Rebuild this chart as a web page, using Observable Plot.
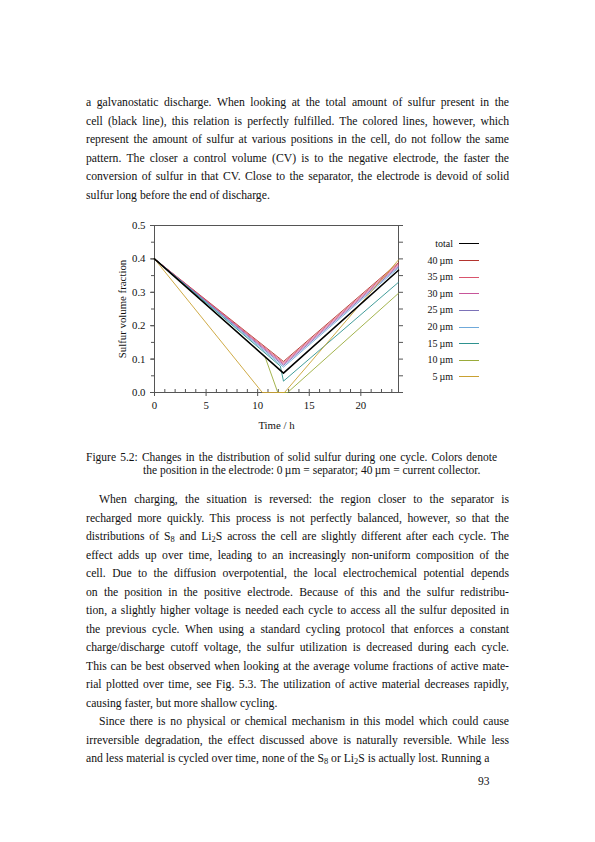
<!DOCTYPE html>
<html><head><meta charset="utf-8">
<script src="https://cdn.jsdelivr.net/npm/d3@7"></script>
<script src="https://cdn.jsdelivr.net/npm/@observablehq/plot@0.6"></script>
<style>
body{margin:0;background:#fff;}
#page{position:relative;width:595px;height:842px;font-family:"Liberation Serif",serif;color:#111;overflow:hidden;}
.ln{position:absolute;left:86px;width:423px;font-size:11.7px;line-height:14px;white-space:nowrap;text-align:justify;text-align-last:justify;}
.ln.last{text-align-last:left;}
.ln.ind{left:99px;width:410px;}
.cap{position:absolute;font-size:11.5px;line-height:13px;white-space:nowrap;text-align:justify;text-align-last:justify;}
sub{font-size:0.72em;vertical-align:-0.25em;line-height:0;}
#chart{position:absolute;left:0;top:205px;}
.lg{position:absolute;font-size:10px;line-height:12px;white-space:nowrap;}
.lgt{position:absolute;right:142px;text-align:right;}
.sw{position:absolute;left:459px;width:20px;height:0;}
#pno{position:absolute;left:478px;top:775px;font-size:11.5px;}
</style></head>
<body><div id="page"></div>
<script>
// ---------- data ----------
const seriesNames = ["total","40\u2009µm","35\u2009µm","30\u2009µm","25\u2009µm","20\u2009µm","15\u2009µm","10\u2009µm","5\u2009µm"];
const seriesColors = ["#000000","#b3342e","#d9546c","#c7559a","#7c72b8","#6fa9da","#2e928f","#9aab3a","#c9a132"];
// [time / h, sulfur volume fraction]
const total = [[0,0.4],[12.5,0.058],[23.65,0.366]];
const s40 = [[0,0.4],[12.5,0.093],[23.65,0.389]];
const s35 = [[0,0.4],[12.5,0.089],[23.65,0.385]];
const s30 = [[0,0.4],[12.5,0.085],[23.65,0.381]];
const s25 = [[0,0.4],[12.5,0.081],[23.65,0.377]];
const s20 = [[0,0.4],[12.5,0.076],[23.65,0.373]];
const s15 = [[0,0.4],[12.2,0.079],[12.5,0.034],[23.65,0.330]];
const s10 = [[0,0.4],[10.7,0.108],[11.95,0],[12.9,0],[23.65,0.297]];
const s5 = [[0,0.4],[10.45,0],[12.6,0],[23.65,0.397]];
const xMajorTicks = [0,5,10,15,20];
const xAllTicks = [0,1,2,3,4,5,6,7,8,9,10,11,12,13,14,15,16,17,18,19,20,21,22,23];
const yMajorTicks = [0,0.1,0.2,0.3,0.4,0.5];
const yAllTicks = [0,0.05,0.1,0.15,0.2,0.25,0.3,0.35,0.4,0.45,0.5];

const para1 = [
 "a galvanostatic discharge. When looking at the total amount of sulfur present in the",
 "cell (black line), this relation is perfectly fulfilled. The colored lines, however, which",
 "represent the amount of sulfur at various positions in the cell, do not follow the same",
 "pattern. The closer a control volume (CV) is to the negative electrode, the faster the",
 "conversion of sulfur in that CV. Close to the separator, the electrode is devoid of solid",
 "sulfur long before the end of discharge."
];
const captionLines = [
 "Figure 5.2: Changes in the distribution of solid sulfur during one cycle. Colors denote",
 "the position in the electrode: 0\u2009µm = separator; 40\u2009µm = current collector."
];
const para2 = [
 "When charging, the situation is reversed: the region closer to the separator is",
 "recharged more quickly. This process is not perfectly balanced, however, so that the",
 "distributions of S<sub>8</sub> and Li<sub>2</sub>S across the cell are slightly different after each cycle. The",
 "effect adds up over time, leading to an increasingly non-uniform composition of the",
 "cell. Due to the diffusion overpotential, the local electrochemical potential depends",
 "on the position in the positive electrode. Because of this and the sulfur redistribu-",
 "tion, a slightly higher voltage is needed each cycle to access all the sulfur deposited in",
 "the previous cycle. When using a standard cycling protocol that enforces a constant",
 "charge/discharge cutoff voltage, the sulfur utilization is decreased during each cycle.",
 "This can be best observed when looking at the average volume fractions of active mate-",
 "rial plotted over time, see Fig. 5.3. The utilization of active material decreases rapidly,",
 "causing faster, but more shallow cycling."
];
const para3 = [
 "Since there is no physical or chemical mechanism in this model which could cause",
 "irreversible degradation, the effect discussed above is naturally reversible. While less",
 "and less material is cycled over time, none of the S<sub>8</sub> or Li<sub>2</sub>S is actually lost. Running a"
];

// ---------- text ----------
const page = document.getElementById("page");
function fit(d, width){
  const probe = document.createElement("span");
  probe.innerHTML = d.innerHTML;
  probe.style.cssText = "position:absolute;visibility:hidden;white-space:nowrap;font-size:" + getComputedStyle(d).fontSize + ";font-family:" + getComputedStyle(d).fontFamily;
  page.appendChild(probe);
  const w = probe.getBoundingClientRect().width;
  const n = probe.textContent.length;
  page.removeChild(probe);
  if (w > width - 4) d.style.letterSpacing = ((width - 4 - w) / n).toFixed(3) + "px";
}
function addLine(html, yCenter, cls){
  const d = document.createElement("div");
  d.className = "ln " + (cls||"");
  d.style.top = (yCenter - 7) + "px";
  d.innerHTML = html;
  page.appendChild(d);
  fit(d, d.getBoundingClientRect().width);
}
para1.forEach((s,i)=>addLine(s, 103 + i*18.5, i===para1.length-1 ? "last" : ""));
para2.forEach((s,i)=>addLine(s, 500 + i*18.5, (i===0?"ind ":"") + (i===para2.length-1 ? "last" : "")));
para3.forEach((s,i)=>addLine(s, 500 + (para2.length+i)*18.5, (i===0?"ind ":"") + (i===para3.length-1 ? "last" : "")));
captionLines.forEach((s,i)=>{
  const d = document.createElement("div");
  d.className = "cap";
  d.style.top = (457 + i*13 - 6.5) + "px";
  if(i===0){ d.style.left="86px"; d.style.width="411px"; }
  else { d.style.left="143px"; d.style.textAlignLast="left"; }
  d.textContent = s;
  page.appendChild(d);
  if(i===0) fit(d, 411);
});
const pno = document.createElement("div"); pno.id="pno"; pno.textContent="93"; page.appendChild(pno);

// ---------- chart ----------
const seriesData = [total,s40,s35,s30,s25,s20,s15,s10,s5];
const rows = [];
seriesData.forEach((pts,i)=>pts.forEach(([t,v])=>rows.push({t, v, series: seriesNames[i]})));
const coloredRows = rows.filter(d=>d.series!=="total");
const totalRows = rows.filter(d=>d.series==="total");

const chart = Plot.plot({
  width: 595, height: 240,
  marginLeft: 154, marginRight: 197, marginTop: 20, marginBottom: 53,
  x: {domain: [0, 23.65]},
  y: {domain: [0, 0.5]},
  color: {domain: seriesNames, range: seriesColors},
  style: {fontFamily: "Liberation Serif", fontSize: "10.8px", color: "#111", background: "transparent"},
  marks: [
    Plot.frame({stroke: "#555"}),
    Plot.axisX(xMajorTicks, {tickSize: 4, tickPadding: 5, stroke: "#555", label: "Time / h", labelAnchor: "center", labelArrow: "none", labelOffset: 36}),
    Plot.axisX(xAllTicks, {tickSize: -3, fill: "none", stroke: "#555", label: null}),
    Plot.axisY(yMajorTicks, {tickSize: 4, tickPadding: 5, tickFormat: ".1f", stroke: "#555", label: "Sulfur volume fraction", labelAnchor: "center", labelArrow: "none", labelOffset: 36}),
    Plot.axisY(yAllTicks, {tickSize: 3, fill: "none", stroke: "#555", label: null}),
    Plot.axisY(yAllTicks, {anchor: "right", tickSize: 4, fill: "none", stroke: "#555", label: null}),
    Plot.line(coloredRows, {x: "t", y: "v", z: "series", stroke: "series", strokeWidth: 0.9}),
    Plot.line(totalRows, {x: "t", y: "v", stroke: "#000", strokeWidth: 1.6})
  ]
});
chart.id = "chart";
page.appendChild(chart);

// ---------- legend ----------
seriesNames.forEach((name,i)=>{
  const y = 244 + i*16.6;
  const t = document.createElement("div");
  t.className = "lg lgt"; t.style.top = (y-6)+"px"; t.textContent = name;
  page.appendChild(t);
  const s = document.createElement("div");
  s.className = "lg sw"; s.style.top = (y - (i===0?0.8:0.5))+"px";
  s.style.borderTop = (i===0?1.6:1) + "px solid " + seriesColors[i];
  page.appendChild(s);
});
</script>
</body></html>
